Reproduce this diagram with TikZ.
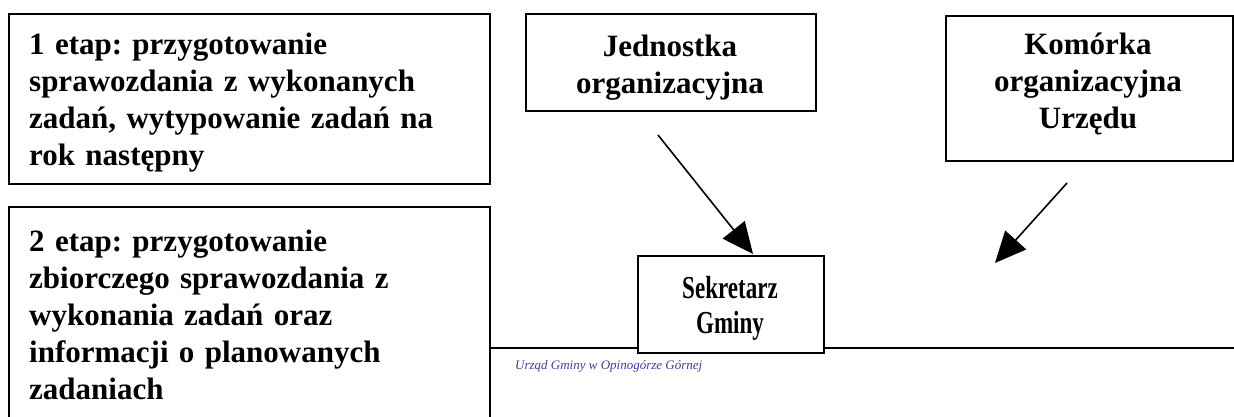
\documentclass[tikz,border=0pt]{standalone}
\usepackage{fontspec}
\setmainfont{Liberation Serif}
\usetikzlibrary{arrows.meta}
\begin{document}
\begin{tikzpicture}[x=1pt,y=-1pt,
  box/.style={draw,line width=2.4pt,inner sep=0pt,anchor=north west},
  big/.style={font=\bfseries\fontsize{31}{37}\selectfont\frenchspacing},
  ltext/.style={big,anchor=base west,inner sep=0pt,text width=460pt,align=left},
  ctext/.style={big,anchor=base,inner sep=0pt,text width=290pt,align=center},
  arr/.style={line width=1.6pt,-{Triangle[length=31pt,width=28pt]}}]
\useasboundingbox (0,0) rectangle (1234,417);
\node[box,minimum width=481pt,minimum height=170pt] (e1) at (8,13) {};
\node[ltext] (e1t) at (29,55)
  {1 etap: przygotowanie\\sprawozdania z wykonanych\\zadań, wytypowanie zadań na\\rok następny};
\node[box,minimum width=481pt,minimum height=240pt] (e2) at (8,206) {};
\node[ltext] (e2t) at (29,251)
  {2 etap: przygotowanie\\zbiorczego sprawozdania z\\wykonania zadań oraz\\informacji o planowanych\\zadaniach};
\node[box,minimum width=290pt,minimum height=97pt] (jo) at (525,13) {};
\node[ctext] (jot) at (670,57) {Jednostka\\organizacyjna};
\node[box,minimum width=287pt,minimum height=145pt] (ko) at (945,15) {};
\node[ctext] (kot) at (1088,55) {Komórka\\organizacyjna\\Urzędu};
\coordinate (lineL) at (489,348);
\coordinate (lineR) at (1240,348);
\draw[line width=2pt] (lineL) -- (lineR);
\node[box,fill=white,minimum width=186pt,minimum height=97pt] (sg) at (637,255) {};
\node[ctext,font=\bfseries\fontsize{32}{35}\selectfont] (sgt) at (730,298)
  {\scalebox{0.72}[1]{Sekretarz}\\\scalebox{0.72}[1]{Gminy}};
\node[anchor=west,inner sep=0pt,text={rgb,255:red,60;green,60;blue,160},font=\itshape\fontsize{13}{16}\selectfont] (ug) at (515,366)
  {Urząd Gminy w Opinogórze Górnej};
\coordinate (a1s) at (658,135);
\coordinate (a1e) at (753,254);
\coordinate (a2s) at (1067,183);
\coordinate (a2e) at (995,263);
\draw[arr] (a1s) -- (a1e);
\draw[arr] (a2s) -- (a2e);
\end{tikzpicture}
\end{document}
